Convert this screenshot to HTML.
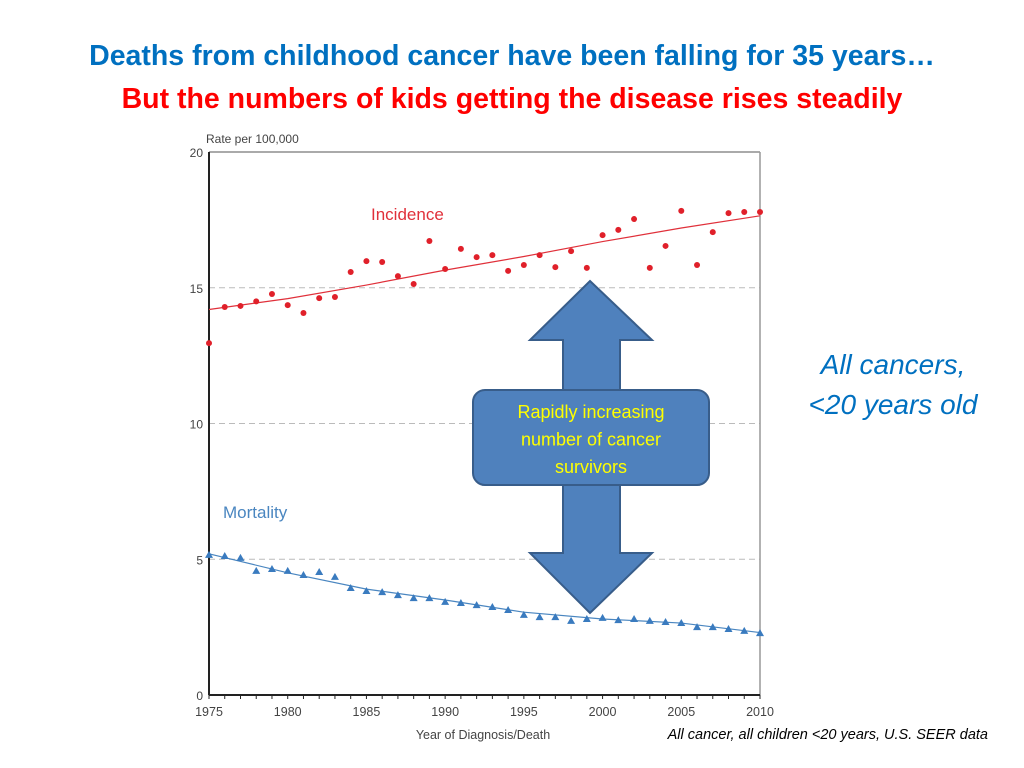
<!DOCTYPE html>
<html><head><meta charset="utf-8"><style>
body{margin:0;width:1024px;height:768px;background:#fff;overflow:hidden;font-family:"Liberation Sans",sans-serif}
.t{position:absolute;left:0;width:1024px;text-align:center;font-family:"Liberation Sans",sans-serif;font-weight:bold;font-size:28.5px;white-space:nowrap}
</style></head><body>
<div class="t" style="top:40px;color:#0070c0">Deaths from childhood cancer have been falling for 35 years…</div>
<div class="t" style="top:83px;color:#ff0000">But the numbers of kids getting the disease rises steadily</div>
<div style="position:absolute;left:773px;top:345px;width:240px;text-align:center;color:#0070c0;font-style:italic;font-size:28px;line-height:40px">All cancers,<br>&lt;20 years old</div>
<div style="position:absolute;left:560px;top:727px;width:428px;text-align:right;font-style:italic;font-size:14.5px">All cancer, all children &lt;20 years, U.S. SEER data</div>
<svg id="c" width="1024" height="768" style="position:absolute;left:0;top:0"></svg>
<script>
const years=[1975,1976,1977,1978,1979,1980,1981,1982,1983,1984,1985,1986,1987,1988,1989,1990,1991,1992,1993,1994,1995,1996,1997,1998,1999,2000,2001,2002,2003,2004,2005,2006,2007,2008,2009,2010];
const incidence=[12.96,14.29,14.33,14.5,14.77,14.36,14.07,14.62,14.66,15.58,15.98,15.95,15.43,15.14,16.72,15.69,16.43,16.13,16.2,15.62,15.84,16.2,15.76,16.35,15.73,16.94,17.13,17.53,15.73,16.54,17.83,15.84,17.05,17.75,17.79,17.79];
const mortality=[5.16,5.12,5.05,4.57,4.64,4.57,4.42,4.53,4.35,3.94,3.83,3.79,3.68,3.57,3.57,3.43,3.39,3.31,3.24,3.13,2.95,2.87,2.87,2.73,2.8,2.84,2.76,2.8,2.73,2.69,2.65,2.5,2.5,2.43,2.36,2.28];
const fitYears=[1975,1980,1985,1990,1995,2000,2005,2010];
const incFit=[14.2,14.6,15.1,15.65,16.15,16.7,17.2,17.65];
const morFit=[5.2,4.5,3.9,3.5,3.05,2.8,2.65,2.3];
const yTicks=[0,5,10,15,20];
const xTicks=[1975,1980,1985,1990,1995,2000,2005,2010];
const X=y=>209+(y-1975)*(760-209)/35;
const Y=v=>695-v*(695-152)/20;
const svg=document.getElementById('c');const NS='http://www.w3.org/2000/svg';
function mk(t,a,p){const e=document.createElementNS(NS,t);for(const k in a)e.setAttribute(k,a[k]);(p||svg).appendChild(e);return e;}
let e;
yTicks.forEach(v=>{if(v>0&&v<20){e=mk('line',{x1:209,x2:760,y1:Y(v),y2:Y(v),stroke:'#bbb','stroke-dasharray':'6,4'});

}
e=mk('text',{x:203,y:Y(v)+5,'text-anchor':'end','font-size':12,fill:'#444','font-family':'Liberation Sans'});e.textContent=v;

});
mk('line',{x1:209,x2:760,y1:152,y2:152,stroke:'#555'});
mk('line',{x1:760,x2:760,y1:152,y2:695,stroke:'#999','stroke-width':1.5});
e=mk('line',{x1:209,x2:209,y1:152,y2:695,stroke:'#222','stroke-width':2});


e=mk('line',{x1:209,x2:760,y1:695,y2:695,stroke:'#222','stroke-width':2});


years.forEach(y=>mk('line',{x1:X(y),x2:X(y),y1:695,y2:699,stroke:'#222'}));
xTicks.forEach(y=>{e=mk('text',{x:X(y),y:716,'text-anchor':'middle','font-size':12.5,fill:'#444','font-family':'Liberation Sans'});e.textContent=y;

});
e=mk('text',{x:206,y:143,'font-size':12,fill:'#444','font-family':'Liberation Sans'});e.textContent='Rate per 100,000';


e=mk('text',{x:483,y:739,'text-anchor':'middle','font-size':12.5,fill:'#444','font-family':'Liberation Sans'});e.textContent='Year of Diagnosis/Death';


e=mk('text',{x:371,y:220,'font-size':17,fill:'#e0303a','font-family':'Liberation Sans'});e.textContent='Incidence';


e=mk('text',{x:223,y:518,'font-size':17,fill:'#4a86c0','font-family':'Liberation Sans'});e.textContent='Mortality';


e=mk('polyline',{points:fitYears.map((y,i)=>X(y)+','+Y(incFit[i])).join(' '),fill:'none',stroke:'#e0303a','stroke-width':1.2});


e=mk('polyline',{points:fitYears.map((y,i)=>X(y)+','+Y(morFit[i])).join(' '),fill:'none',stroke:'#4a86c0','stroke-width':1.2});


years.forEach((y,i)=>{e=mk('circle',{cx:X(y),cy:Y(incidence[i]),r:3,fill:'#e0202a'});


const cx=X(y),cy=Y(mortality[i]);
e=mk('polygon',{points:`${cx},${cy-4} ${cx-4},${cy+3} ${cx+4},${cy+3}`,fill:'#3a7bbf'});

});
e=mk('polygon',{points:'590,281 652,340 620,340 620,553 652,553 590,613 530,553 563,553 563,340 530,340',fill:'#4f81bd',stroke:'#385d8a','stroke-width':2});


e=mk('rect',{x:473,y:390,width:236,height:95,rx:12,fill:'#4f81bd',stroke:'#385d8a','stroke-width':2});


['Rapidly increasing','number of cancer','survivors'].forEach((s,i)=>{e=mk('text',{x:591,y:418+i*27.5,'text-anchor':'middle','font-size':18,fill:'#ffff00','font-family':'Liberation Sans'});e.textContent=s;

});
</script>
</body></html>
